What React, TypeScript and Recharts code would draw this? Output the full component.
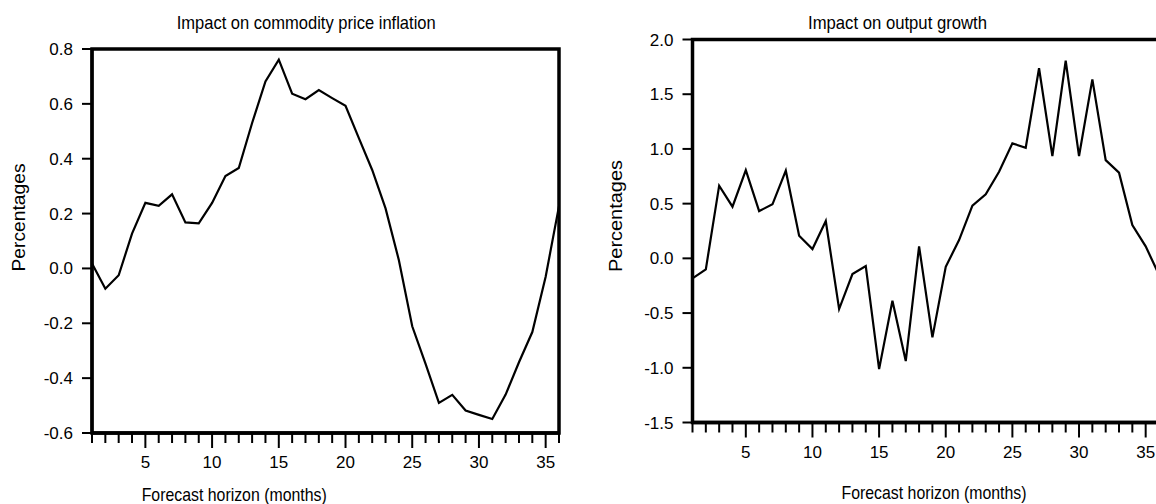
import React from "react";
import { LineChart, Line, XAxis, YAxis, ReferenceArea } from "recharts";

const horizon: number[] = Array.from({ length: 36 }, (_, i) => i + 1);

const commodityInflation: number[] = [
  0.018, -0.074, -0.025, 0.127, 0.239, 0.228, 0.27, 0.168, 0.164, 0.239,
  0.337, 0.366, 0.53, 0.682, 0.761, 0.637, 0.617, 0.65, 0.621, 0.593,
  0.475, 0.359, 0.219, 0.03, -0.211, -0.348, -0.49, -0.461, -0.518, -0.534,
  -0.549, -0.46, -0.342, -0.232, -0.03, 0.227,
];

const outputGrowth: number[] = [
  -0.183, -0.1, 0.664, 0.472, 0.807, 0.432, 0.494, 0.801, 0.207, 0.085,
  0.341, -0.463, -0.143, -0.07, -1.012, -0.387, -0.939, 0.11, -0.722, -0.077,
  0.167, 0.481, 0.585, 0.792, 1.051, 1.011, 1.737, 0.935, 1.806, 0.935,
  1.636, 0.898, 0.783, 0.304, 0.11, -0.15,
];

const leftYTicks: number[] = [-0.6, -0.4, -0.2, 0, 0.2, 0.4, 0.6, 0.8];
const rightYTicks: number[] = [-1.5, -1.0, -0.5, 0, 0.5, 1.0, 1.5, 2.0];

const leftTitle = "Impact on commodity price inflation";
const rightTitle = "Impact on output growth";
const yLabel = "Percentages";
const xLabel = "Forecast horizon (months)";

const leftData = horizon.map((h, i) => ({ h, v: commodityInflation[i] }));
const rightData = horizon.map((h, i) => ({ h, v: outputGrowth[i] }));

const FONT = "'Liberation Sans', Arial, Helvetica, sans-serif";

const XTick = (props: any) => {
  const { x, y, payload } = props;
  const v = payload.value as number;
  const major = v % 5 === 0;
  return (
    <g>
      <line x1={x} x2={x} y1={y} y2={y + (major ? 15 : 10)} stroke="#000" strokeWidth={2} />
      {major && (
        <text x={x} y={y + 35} textAnchor="middle" fontSize={17} fontFamily={FONT} fill="#000">
          {v}
        </text>
      )}
    </g>
  );
};

type PanelProps = {
  data: { h: number; v: number }[];
  yDomain: [number, number];
  yTicks: number[];
  width: number;
  top: number;
  yAxisWidth: number;
  xAxisHeight: number;
};

const Panel = ({ data, yDomain, yTicks, width, top, yAxisWidth, xAxisHeight }: PanelProps) => (
  <LineChart
    width={width}
    height={504}
    data={data}
    margin={{ top, right: 21, bottom: 0, left: 0 }}
  >
    <XAxis
      dataKey="h"
      type="number"
      domain={[1, 36]}
      ticks={horizon}
      interval={0}
      height={xAxisHeight}
      axisLine={{ stroke: "#000", strokeWidth: 3.5 }}
      tickLine={false}
      tickSize={0}
      tickMargin={0}
      tick={<XTick />}
    />
    <YAxis
      type="number"
      domain={yDomain}
      ticks={yTicks}
      interval={0}
      width={yAxisWidth}
      axisLine={{ stroke: "#000", strokeWidth: 3 }}
      tickLine={{ stroke: "#000", strokeWidth: 2 }}
      tickSize={10}
      tickMargin={9}
      tickFormatter={(v: number) => v.toFixed(1)}
      tick={{ fontSize: 17, fontFamily: FONT, fill: "#000" }}
    />
    <ReferenceArea
      x1={1}
      x2={36}
      y1={yDomain[0]}
      y2={yDomain[1]}
      fill="none"
      fillOpacity={0}
      stroke="#000"
      strokeWidth={3.5}
      ifOverflow="visible"
    />
    <Line
      type="linear"
      dataKey="v"
      stroke="#000"
      strokeWidth={2.2}
      dot={false}
      activeDot={false}
      isAnimationActive={false}
    />
  </LineChart>
);

const txt = { fontFamily: FONT, fill: "#000" } as const;

export default function App() {
  return (
    <div
      style={{
        position: "fixed",
        left: 0,
        top: 0,
        width: 1156,
        height: 504,
        overflow: "hidden",
        background: "#fff",
      }}
    >
      <div style={{ position: "absolute", left: 0, top: 0 }}>
        <Panel
          data={leftData}
          yDomain={[-0.6, 0.8]}
          yTicks={leftYTicks}
          width={580}
          top={49}
          yAxisWidth={92}
          xAxisHeight={71}
        />
      </div>
      <div style={{ position: "absolute", left: 580, top: 0 }}>
        <Panel
          data={rightData}
          yDomain={[-1.5, 2.0]}
          yTicks={rightYTicks}
          width={600}
          top={39.5}
          yAxisWidth={112.5}
          xAxisHeight={81.5}
        />
      </div>
      <svg
        width={1156}
        height={504}
        style={{ position: "absolute", left: 0, top: 0, pointerEvents: "none" }}
      >
        <text {...txt} x={176.7} y={29} fontSize={18.5} textLength={259} lengthAdjust="spacingAndGlyphs">
          {leftTitle}
        </text>
        <text {...txt} x={808} y={29} fontSize={18.5} textLength={179} lengthAdjust="spacingAndGlyphs">
          {rightTitle}
        </text>
        <text
          {...txt}
          x={0}
          y={0}
          fontSize={18.5}
          textAnchor="middle"
          textLength={108}
          lengthAdjust="spacingAndGlyphs"
          transform="translate(25,217.5) rotate(-90)"
        >
          {yLabel}
        </text>
        <text
          {...txt}
          x={0}
          y={0}
          fontSize={18.5}
          textAnchor="middle"
          textLength={112}
          lengthAdjust="spacingAndGlyphs"
          transform="translate(621.5,216) rotate(-90)"
        >
          {yLabel}
        </text>
        <text {...txt} x={141.7} y={500.5} fontSize={18.5} textLength={185} lengthAdjust="spacingAndGlyphs">
          {xLabel}
        </text>
        <text {...txt} x={841.5} y={499} fontSize={18.5} textLength={185} lengthAdjust="spacingAndGlyphs">
          {xLabel}
        </text>
      </svg>
    </div>
  );
}
